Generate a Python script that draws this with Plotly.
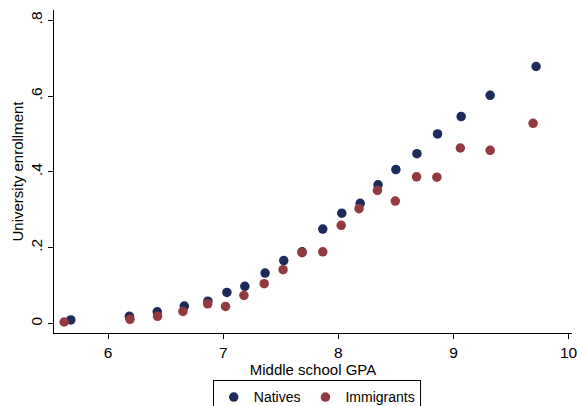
import plotly.graph_objects as go

# data
gpa_natives = [5.676, 6.185, 6.427, 6.662, 6.867, 7.032, 7.188, 7.364, 7.526, 7.685,
               7.865, 8.03, 8.19, 8.345, 8.50, 8.683, 8.862, 9.067, 9.319, 9.718]
enr_natives = [0.0095, 0.019, 0.031, 0.046, 0.059, 0.082, 0.098, 0.133, 0.166, 0.189,
               0.249, 0.291, 0.317, 0.366, 0.406, 0.448, 0.500, 0.546, 0.602, 0.678]

gpa_immigrants = [5.618, 6.19, 6.43, 6.65, 6.865, 7.02, 7.18, 7.356, 7.52, 7.685,
                  7.865, 8.025, 8.18, 8.34, 8.495, 8.68, 8.856, 9.06, 9.319, 9.692]
enr_immigrants = [0.004, 0.011, 0.019, 0.032, 0.052, 0.045, 0.074, 0.105, 0.142, 0.187,
                  0.189, 0.259, 0.303, 0.351, 0.323, 0.387, 0.386, 0.463, 0.457, 0.528]

y_ticks = [0, 0.2, 0.4, 0.6, 0.8]
y_labels = ["0", ".2", ".4", ".6", ".8"]
x_ticks = [6, 7, 8, 9, 10]

navy = "#1c2b5a"
maroon = "#923a40"
font = "Arial, Liberation Sans, sans-serif"

fig = go.Figure()
fig.add_trace(go.Scatter(x=gpa_natives, y=enr_natives, mode="markers", name="Natives",
                         marker=dict(color=navy, size=9.5)))
fig.add_trace(go.Scatter(x=gpa_immigrants, y=enr_immigrants, mode="markers", name="Immigrants",
                         marker=dict(color=maroon, size=9.5)))

fig.update_layout(
    width=577, height=406,
    margin=dict(l=54, r=5, t=10, b=73),
    plot_bgcolor="white", paper_bgcolor="white",
    font=dict(family=font, size=15, color="black"),
    legend=dict(orientation="h", xref="container", yref="container",
                x=0.549, y=0.063, xanchor="center", yanchor="top",
                bordercolor="black", borderwidth=1, font=dict(size=14),
                itemwidth=30, tracegroupgap=0),
)
fig.update_xaxes(range=[5.53, 10.03], tickvals=x_ticks, showgrid=False, zeroline=False,
                 showline=True, linecolor="black", linewidth=1, automargin=False,
                 ticklabeloverflow="allow",
                 ticks="outside", ticklen=5, tickcolor="black", tickfont=dict(size=15.5),
                 title=dict(text="Middle school GPA", font=dict(size=15), standoff=4))
fig.update_yaxes(range=[-0.025, 0.827], tickvals=y_ticks, ticktext=y_labels, tickangle=-90,
                 showgrid=False, zeroline=False, automargin=False,
                 showline=True, linecolor="black", linewidth=1,
                 ticks="outside", ticklen=5, tickcolor="black", tickfont=dict(size=15.5),
                 title=dict(text="University enrollment", font=dict(size=15), standoff=0))

# page body has a default 8px margin; remove it so the figure fills the window
fig.write_html("out.html", config={"displayModeBar": False},
               post_script="document.body.style.margin='0';")
